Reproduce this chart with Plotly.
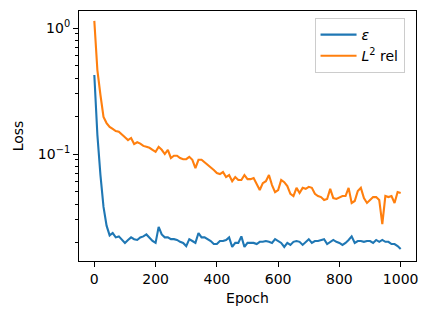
import plotly.graph_objects as go

epochs = list(range(0, 1001, 10))

eps_loss = [
    0.424, 0.142, 0.068, 0.038, 0.027, 0.0226, 0.0236, 0.0218, 0.0222, 0.0208,
    0.0197, 0.0208, 0.0218, 0.0211, 0.0208, 0.0218, 0.0222, 0.0230, 0.0215, 0.0204,
    0.0197, 0.0264, 0.0230, 0.0218, 0.0218, 0.0211, 0.0211, 0.0208, 0.0201, 0.0197,
    0.0186, 0.0211, 0.0204, 0.0197, 0.0236, 0.0218, 0.0218, 0.0211, 0.0204, 0.0193,
    0.0193, 0.0204, 0.0204, 0.0208, 0.0218, 0.0183, 0.0197, 0.0197, 0.0222, 0.0183,
    0.0197, 0.0197, 0.0197, 0.0193, 0.0201, 0.0201, 0.0204, 0.0201, 0.0197, 0.0211,
    0.0204, 0.0197, 0.0183, 0.0197, 0.0190, 0.0201, 0.0204, 0.0201, 0.0190, 0.0201,
    0.0211, 0.0197, 0.0204, 0.0204, 0.0208, 0.0211, 0.0193, 0.0201, 0.0208, 0.0201,
    0.0197, 0.0190, 0.0197, 0.0208, 0.0222, 0.0197, 0.0204, 0.0204, 0.0201, 0.0204,
    0.0204, 0.0197, 0.0208, 0.0201, 0.0208, 0.0201, 0.0201, 0.0193, 0.0193, 0.0186,
    0.0176,
]

l2_rel = [
    1.14, 0.464, 0.294, 0.197, 0.176, 0.164, 0.158, 0.152, 0.150, 0.144,
    0.136, 0.129, 0.134, 0.120, 0.124, 0.121, 0.116, 0.114, 0.112, 0.108,
    0.104, 0.114, 0.108, 0.100, 0.108, 0.093, 0.097, 0.097, 0.093, 0.091,
    0.091, 0.095, 0.090, 0.0774, 0.090, 0.090, 0.086, 0.083, 0.079, 0.0746,
    0.0707, 0.0694, 0.0720, 0.0657, 0.0681, 0.0609, 0.0657, 0.0622, 0.0622, 0.0681,
    0.0632, 0.0632, 0.0645, 0.0578, 0.0518, 0.0587, 0.0609, 0.0681, 0.0567, 0.0499,
    0.0518, 0.0622, 0.0598, 0.0556, 0.0483, 0.0464, 0.0539, 0.0491, 0.0539, 0.0529,
    0.0549, 0.0539, 0.0483, 0.0464, 0.0455, 0.0431, 0.0440, 0.0529, 0.0447, 0.0440,
    0.0455, 0.0464, 0.0464, 0.0539, 0.0409, 0.0424, 0.0509, 0.0539, 0.0447, 0.0409,
    0.0431, 0.0455, 0.0455, 0.0431, 0.0278, 0.0464, 0.0455, 0.0464, 0.0409, 0.0499,
    0.0491,
]

series_names = ["<i>ε</i>", "<i>L</i><sup>2</sup> rel"]
series_colors = ["#1f77b4", "#ff7f0e"]

x_tickvals = [0, 200, 400, 600, 800, 1000]
x_ticktext = ["0", "200", "400", "600", "800", "1000"]
y_tickvals = [0.1, 1]
y_ticktext = ["10<sup>−1</sup>", "10<sup>0</sup>"]
y_minor_vals = [0.02, 0.03, 0.04, 0.05, 0.06, 0.07, 0.08, 0.09,
                0.2, 0.3, 0.4, 0.5, 0.6, 0.7, 0.8, 0.9]

FONT = "DejaVu Sans"

fig = go.Figure()
for name, ys, col in zip(series_names, [eps_loss, l2_rel], series_colors):
    fig.add_trace(go.Scatter(x=epochs, y=ys, mode="lines", name=name,
                             line=dict(color=col, width=2.1)))

axis_common = dict(showline=True, linecolor="black", linewidth=1.1, mirror=True,
                   ticks="outside", ticklen=5, tickwidth=1.1, tickcolor="black",
                   showgrid=False, zeroline=False, automargin=False,
                   tickfont=dict(family=FONT, size=14, color="black"))

fig.update_xaxes(range=[-50, 1050], tickmode="array", tickvals=x_tickvals,
                 ticktext=x_ticktext,
                 title=dict(text="Epoch", font=dict(family=FONT, size=14, color="black"),
                            standoff=7),
                 **axis_common)
fig.update_yaxes(type="log", range=[-1.849, 0.135], tickmode="array",
                 tickvals=y_tickvals, ticktext=y_ticktext,
                 minor=dict(ticks="outside", ticklen=3, tickwidth=0.8, tickcolor="black",
                            tickmode="array", tickvals=y_minor_vals, showgrid=False),
                 title=dict(text="Loss", font=dict(family=FONT, size=14, color="black"),
                            standoff=10),
                 **axis_common)

fig.update_layout(
    width=432, height=319,
    margin=dict(l=79, r=16, t=11, b=58),
    plot_bgcolor="white", paper_bgcolor="white",
    font=dict(family=FONT, size=14, color="black"),
    legend=dict(x=0.966, y=0.972, xanchor="right", yanchor="top",
                bgcolor="rgba(255,255,255,0.8)", bordercolor="#cccccc", borderwidth=1,
                font=dict(family=FONT, size=14, color="black"),
                tracegroupgap=0, itemwidth=36),
)

fig.write_html("out.html", config={"displayModeBar": False},
               post_script="document.body.style.margin='0';document.body.style.padding='0';")
